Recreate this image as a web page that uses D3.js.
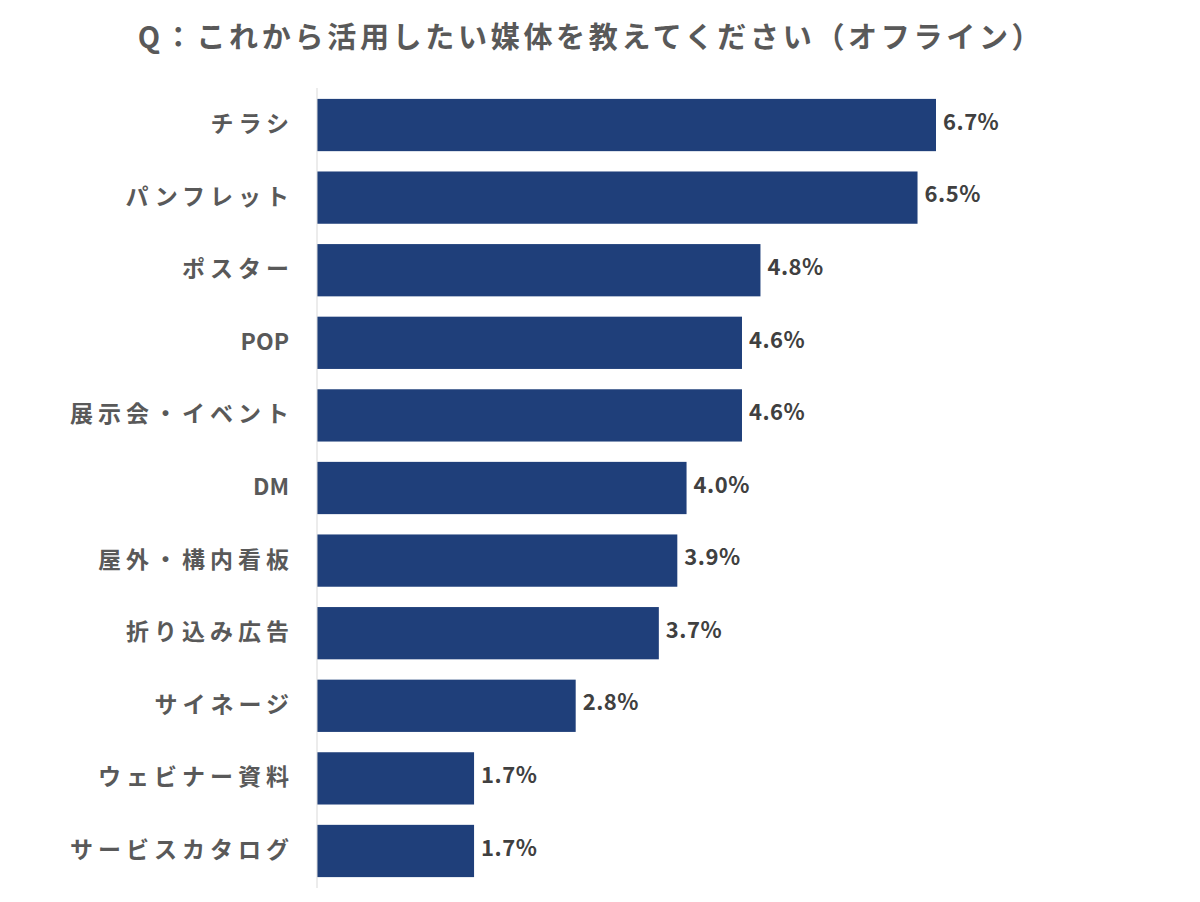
<!DOCTYPE html>
<html>
<head>
<meta charset="utf-8">
<script src="https://cdn.jsdelivr.net/npm/d3@7"></script>
<style>
  body { margin: 0; background: #fff; }
  svg text { font-family: "Noto Sans CJK JP", "Noto Sans", sans-serif; }
</style>
</head>
<body>
<svg id="chart" width="1200" height="902"></svg>
<script>
const titleText = "Q：これから活用したい媒体を教えてください（オフライン）";
const categories = ["チラシ", "パンフレット", "ポスター", "POP", "展示会・イベント", "DM", "屋外・構内看板", "折り込み広告", "サイネージ", "ウェビナー資料", "サービスカタログ"];
const values = [6.7, 6.5, 4.8, 4.6, 4.6, 4.0, 3.9, 3.7, 2.8, 1.7, 1.7];

const svg = d3.select("#chart");
const plotLeft = 317, plotTop = 88, plotBottom = 888;

// scale: 6.7% reaches x=936
const x = d3.scaleLinear().domain([0, 6.7]).range([plotLeft, 936]);
const y = d3.scaleBand().domain(categories).range([plotTop, plotBottom]).paddingInner(0.28).paddingOuter(0.15);

const isLatin = s => /^[A-Za-z0-9 ]+$/.test(s);

svg.append("text")
  .attr("x", 591).attr("y", 48)
  .attr("text-anchor", "middle")
  .attr("font-size", 29).attr("font-weight", "bold")
  .attr("letter-spacing", 3.7)
  .attr("fill", "#595959")
  .text(titleText);

svg.append("g").selectAll("rect")
  .data(values)
  .join("rect")
  .attr("x", plotLeft)
  .attr("y", (d, i) => y(categories[i]))
  .attr("width", d => x(d) - plotLeft)
  .attr("height", y.bandwidth())
  .attr("fill", "#1f3f7a");

svg.append("line")
  .attr("x1", plotLeft).attr("x2", plotLeft)
  .attr("y1", plotTop).attr("y2", plotBottom)
  .attr("stroke", "#d9d9d9").attr("stroke-width", 1);

svg.append("g").selectAll("text")
  .data(categories)
  .join("text")
  .attr("x", d => isLatin(d) ? 289 : 294)
  .attr("y", d => y(d) + y.bandwidth() / 2 - 1)
  .attr("dy", "0.35em")
  .attr("text-anchor", "end")
  .attr("font-size", 23).attr("font-weight", "bold")
  .attr("letter-spacing", d => isLatin(d) ? 0 : 5)
  .attr("fill", "#595959")
  .text(d => d);

svg.append("g").selectAll("text")
  .data(values)
  .join("text")
  .attr("x", d => x(d) + 7)
  .attr("y", (d, i) => y(categories[i]) + y.bandwidth() / 2 - 3)
  .attr("dy", "0.35em")
  .attr("font-size", 22).attr("font-weight", "bold")
  .attr("letter-spacing", 0.5)
  .attr("fill", "#404040")
  .text(d => d.toFixed(1) + "%");
</script>
</body>
</html>
